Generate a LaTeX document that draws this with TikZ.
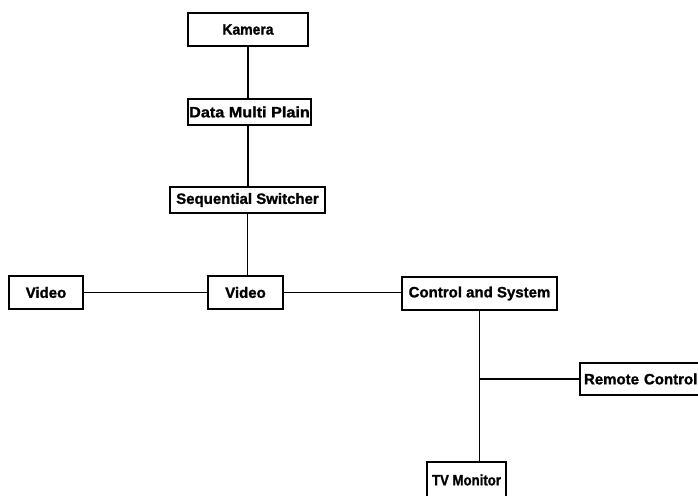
\documentclass[tikz,border=0pt]{standalone}
\usepackage{fontspec}
\setmainfont{Liberation Sans}[BoldFeatures={FakeBold=1.2}]
\begin{document}
\begin{tikzpicture}[x=1pt,y=-1pt,
  blk/.style={draw=black, line width=1.8pt, rectangle, inner sep=0pt,
    font=\bfseries\fontsize{15}{17}\selectfont, align=center},
  wire/.style={line width=1.8pt}]
\useasboundingbox[fill=white] (0,0) rectangle (698,495);
% boxes
\node[blk, minimum width=120pt, minimum height=33pt] (kam) at (248,29.5) {\scalebox{0.93}[1]{Kamera}};
\node[blk, minimum width=123pt, minimum height=26pt] (dmp) at (249.5,112) {\scalebox{1.08}[1]{Data Multi Plain}};
\node[blk, minimum width=155pt, minimum height=26pt] (seq) at (247.5,200) {Sequential Switcher};
\node[blk, minimum width=74pt, minimum height=33pt] (vidL) at (46,292.5) {Video};
\node[blk, minimum width=75pt, minimum height=33pt] (vidM) at (245.5,292.5) {Video};
\node[blk, minimum width=155pt, minimum height=33pt] (ctl) at (479.5,293.5) {Control and System};
\node[blk, minimum width=124pt, minimum height=32pt, text width=116pt, align=left] (rem) at (642,379) {Remote Control};
\node[blk, minimum width=79pt, minimum height=36pt] (tv) at (466.5,480) {\scalebox{0.88}[1]{TV Monitor}};
% connectors
\draw[wire] (kam.south) -- (kam.south |- dmp.north);
\draw[wire] (dmp.south -| kam.south) -- (kam.south |- seq.north);
\draw[wire] (seq.south) -- (seq.south |- vidM.north);
\draw[wire] (vidL.east) -- (vidM.west);
\draw[wire] (vidM.east) -- (vidM.east -| ctl.west);
\coordinate (tap) at (ctl.south |- rem.west);
\draw[wire] (ctl.south) -- (ctl.south |- tv.north);
\draw[wire] (tap) -- (rem.west);
\end{tikzpicture}
\end{document}
